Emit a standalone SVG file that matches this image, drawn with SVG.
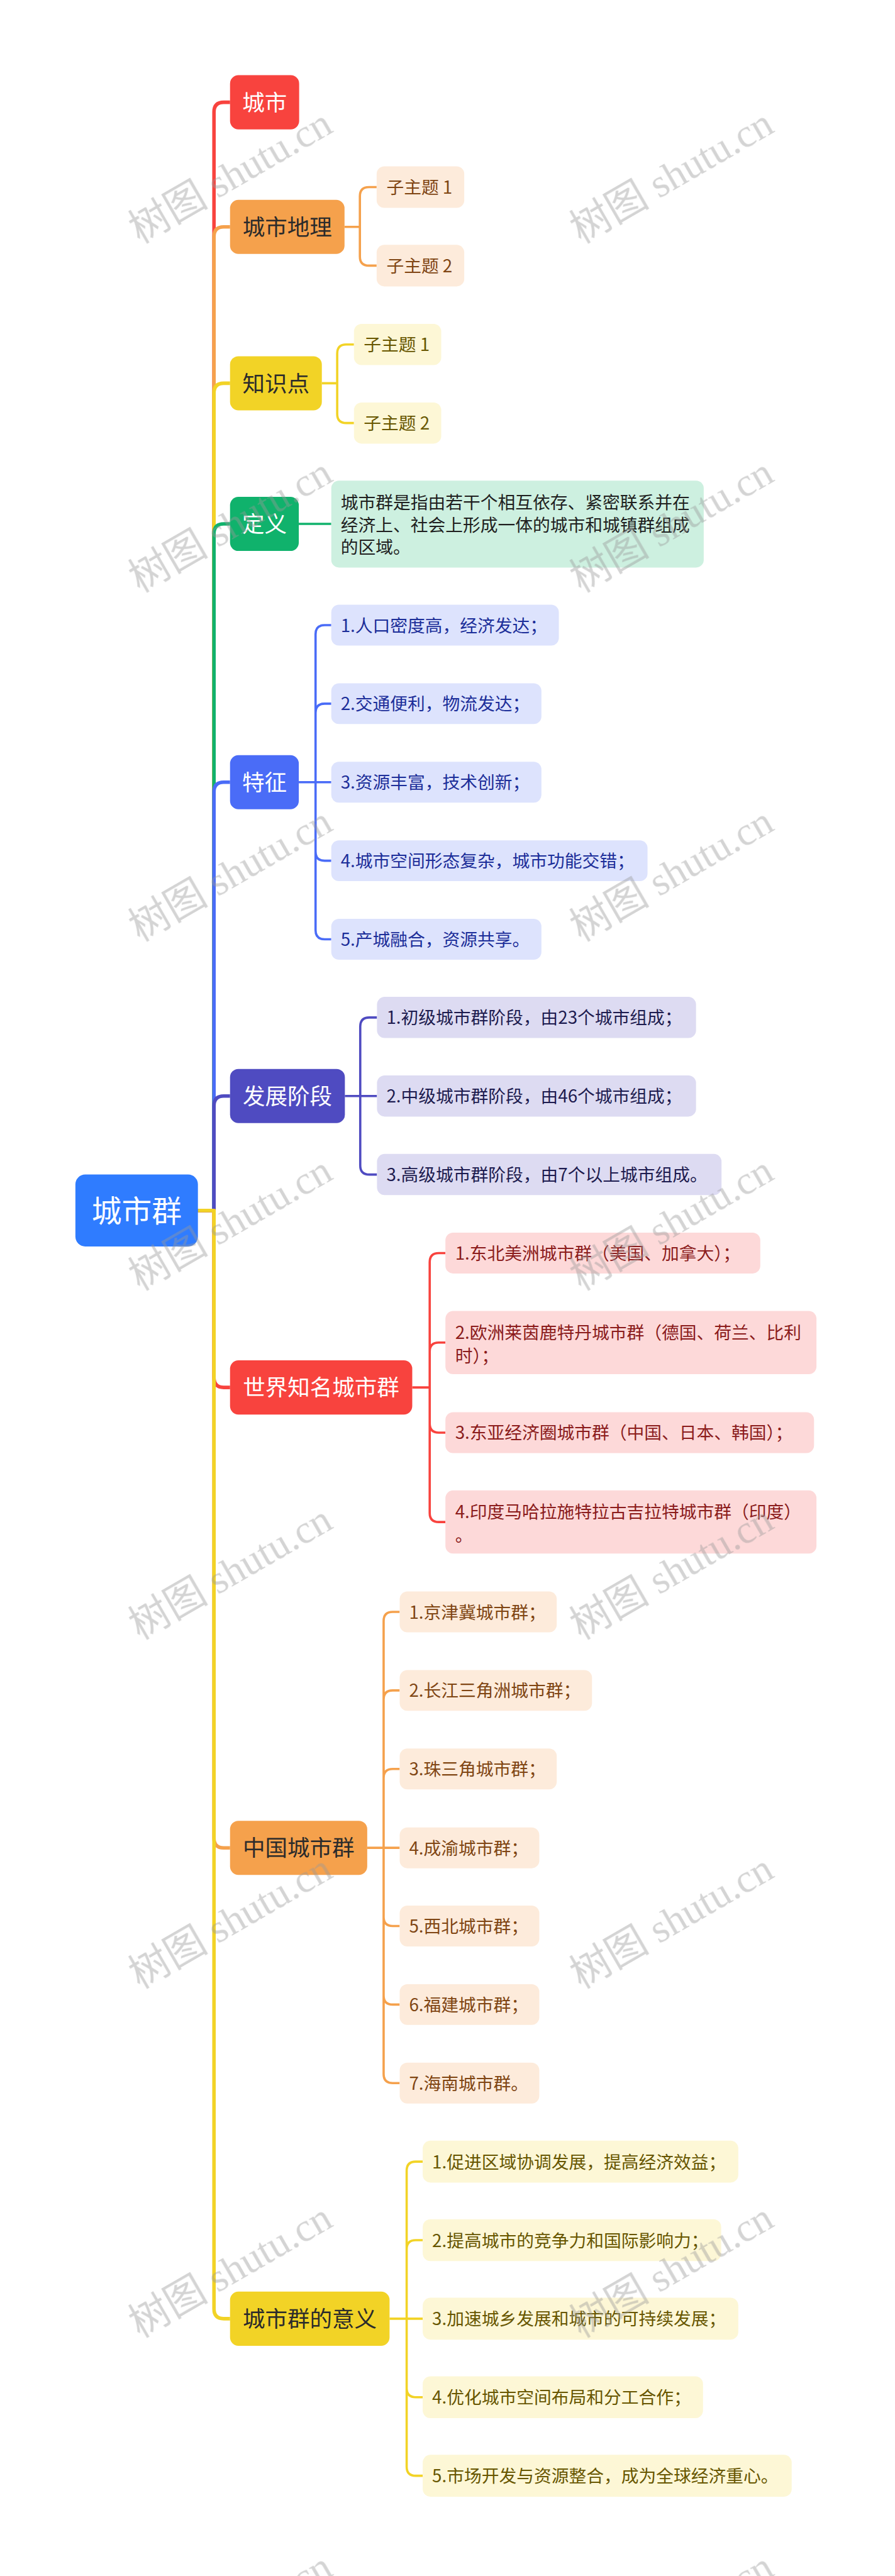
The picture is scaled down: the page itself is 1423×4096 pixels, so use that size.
<svg xmlns="http://www.w3.org/2000/svg" width="1423" height="4096" viewBox="0 0 1423 4096">
<style>
.t{font-family:"Noto Sans CJK SC","Noto Sans",sans-serif}
.rt{font-size:86px;fill:#fff;text-anchor:middle}
.b{font-size:64px;text-anchor:middle}
.l{font-size:50px}
.w{fill:#fff}
.d{fill:#2b2b2b}
.br{fill:none;stroke-width:10;stroke-linejoin:round}
.sb{fill:none;stroke-width:6.5;stroke-linejoin:round}
.cr{stroke:#F8433E}.co{stroke:#F5A14C}.cy{stroke:#F2D326}.cg{stroke:#10B26C}.cb{stroke:#4A6CF7}.ci{stroke:#4F4BC1}
.fo{fill:#FDEBDB}.to{fill:#7F4513}
.fy{fill:#FDF7D6}.ty{fill:#675600}
.fg{fill:#CDF0E0}.tg{fill:#1f1f1f}
.fb{fill:#DDE3FD}.tb{fill:#1C2E99}
.fi{fill:#DDDBF2}.ti{fill:#1D1B4F}
.fr{fill:#FDD9D9}.tr{fill:#8B1C1C}
.wm{font-family:"Liberation Serif","Noto Sans CJK SC",serif;font-size:115px;fill:#9a9a9a;opacity:.42}
</style>
<rect width="1423" height="4096" fill="#fff"/>
<g transform="scale(0.555)">
<g id="connectors">
<path class="br cr" d="M567 3468H613V321Q613 293 641 293H659"/>
<path class="br co" d="M567 3468H613V678Q613 650 641 650H659"/>
<path class="br cy" d="M567 3468H613V1126Q613 1098 641 1098H659"/>
<path class="br cg" d="M567 3468H613V1529Q613 1501 641 1501H659"/>
<path class="br cb" d="M567 3468H613V2269Q613 2241 641 2241H659"/>
<path class="br ci" d="M567 3468H613V3168Q613 3140 641 3140H659"/>
<path class="br cr" d="M567 3468H613V3947Q613 3975 641 3975H659"/>
<path class="br co" d="M567 3468H613V5266Q613 5294 641 5294H659"/>
<path class="br cy" d="M567 3468H613V6615Q613 6643 641 6643H659"/>
<path class="sb co" d="M987 650H1031V562Q1031 536 1057 536H1079M987 650H1031V735Q1031 761 1057 761H1079"/>
<path class="sb cy" d="M922 1098H966V1013Q966 987 992 987H1014M922 1098H966V1186Q966 1212 992 1212H1014"/>
<path class="sb cg" d="M856 1501H949"/>
<path class="sb cb" d="M856 2241H904V1817Q904 1791 930 1791H949M856 2241H904V2042Q904 2016 930 2016H949M856 2241H949M856 2241H904V2440Q904 2466 930 2466H949M856 2241H904V2665Q904 2691 930 2691H949"/>
<path class="sb ci" d="M988 3140H1032V2941Q1032 2915 1058 2915H1080M988 3140H1080M988 3140H1032V3339Q1032 3365 1058 3365H1080"/>
<path class="sb cr" d="M1181 3975H1231V3616Q1231 3590 1257 3590H1276M1181 3975H1231V3872.5Q1231 3846.5 1257 3846.5H1276M1181 3975H1231V4078.5Q1231 4104.5 1257 4104.5H1276M1181 3975H1231V4334.5Q1231 4360.5 1257 4360.5H1276"/>
<path class="sb co" d="M1052 5294H1099V4644Q1099 4618 1125 4618H1145M1052 5294H1099V4869Q1099 4843 1125 4843H1145M1052 5294H1099V5094Q1099 5068 1125 5068H1145M1052 5294H1145M1052 5294H1099V5492Q1099 5518 1125 5518H1145M1052 5294H1099V5717Q1099 5743 1125 5743H1145M1052 5294H1099V5942Q1099 5968 1125 5968H1145"/>
<path class="sb cy" d="M1116 6643H1165V6219Q1165 6193 1191 6193H1211M1116 6643H1165V6444Q1165 6418 1191 6418H1211M1116 6643H1211M1116 6643H1165V6842Q1165 6868 1191 6868H1211M1116 6643H1165V7067Q1165 7093 1191 7093H1211"/>
</g>
<g id="root">
<rect x="216" y="3365" width="351" height="206" rx="28" fill="#2F7CFF"/>
<text class="t rt" x="391.5" y="3500">城市群</text>
</g>
<g id="n-chengshi">
<rect x="659" y="215.5" width="198" height="155" rx="24" fill="#F8433E"/>
<text class="t b w" x="758" y="317">城市</text>
</g>
<g id="n-dili">
<rect x="659" y="572.5" width="328" height="155" rx="24" fill="#F5A14C"/>
<text class="t b d" x="823" y="674">城市地理</text>
</g>
<g id="n-dili-1"><rect class="fo" x="1079" y="476.5" width="251" height="119" rx="22"/><text class="t l to" x="1107" y="555">子主题 1</text></g>
<g id="n-dili-2"><rect class="fo" x="1079" y="701.5" width="251" height="119" rx="22"/><text class="t l to" x="1107" y="780">子主题 2</text></g>
<g id="n-zhishi">
<rect x="659" y="1020.5" width="263" height="155" rx="24" fill="#F2D326"/>
<text class="t b d" x="790.5" y="1122">知识点</text>
</g>
<g id="n-zhishi-1"><rect class="fy" x="1014" y="928" width="250" height="118" rx="22"/><text class="t l ty" x="1042" y="1006">子主题 1</text></g>
<g id="n-zhishi-2"><rect class="fy" x="1014" y="1153" width="250" height="118" rx="22"/><text class="t l ty" x="1042" y="1231">子主题 2</text></g>
<g id="n-dingyi">
<rect x="659" y="1423.5" width="197" height="155" rx="24" fill="#10B26C"/>
<text class="t b w" x="757.5" y="1525">定义</text>
</g>
<g id="n-dingyi-1"><rect class="fg" x="949" y="1377" width="1067" height="249" rx="22"/>
<text class="t l tg" x="976" y="1458">城市群是指由若干个相互依存、紧密联系并在</text>
<text class="t l tg" x="976" y="1522">经济上、社会上形成一体的城市和城镇群组成</text>
<text class="t l tg" x="976" y="1586">的区域。</text></g>
<g id="n-tezheng">
<rect x="659" y="2163.5" width="197" height="155" rx="24" fill="#4A6CF7"/>
<text class="t b w" x="757.5" y="2265">特征</text>
</g>
<g id="n-tz-1"><rect class="fb" x="949" y="1732.5" width="652" height="117" rx="22"/><text class="t l tb" x="976" y="1810">1.人口密度高，经济发达；</text></g>
<g id="n-tz-2"><rect class="fb" x="949" y="1957.5" width="602" height="117" rx="22"/><text class="t l tb" x="976" y="2035">2.交通便利，物流发达；</text></g>
<g id="n-tz-3"><rect class="fb" x="949" y="2182.5" width="602" height="117" rx="22"/><text class="t l tb" x="976" y="2260">3.资源丰富，技术创新；</text></g>
<g id="n-tz-4"><rect class="fb" x="949" y="2407.5" width="906" height="117" rx="22"/><text class="t l tb" x="976" y="2485">4.城市空间形态复杂，城市功能交错；</text></g>
<g id="n-tz-5"><rect class="fb" x="949" y="2632.5" width="602" height="117" rx="22"/><text class="t l tb" x="976" y="2710">5.产城融合，资源共享。</text></g>
<g id="n-fazhan">
<rect x="659" y="3062.5" width="329" height="155" rx="24" fill="#4F4BC1"/>
<text class="t b w" x="823.5" y="3164">发展阶段</text>
</g>
<g id="n-fz-1"><rect class="fi" x="1080" y="2856" width="914" height="118" rx="22"/><text class="t l ti" x="1107" y="2934">1.初级城市群阶段，由23个城市组成；</text></g>
<g id="n-fz-2"><rect class="fi" x="1080" y="3081" width="914" height="118" rx="22"/><text class="t l ti" x="1107" y="3159">2.中级城市群阶段，由46个城市组成；</text></g>
<g id="n-fz-3"><rect class="fi" x="1080" y="3306" width="987" height="118" rx="22"/><text class="t l ti" x="1107" y="3384">3.高级城市群阶段，由7个以上城市组成。</text></g>
<g id="n-shijie">
<rect x="659" y="3897.5" width="522" height="155" rx="24" fill="#F8433E"/>
<text class="t b w" x="920" y="3999">世界知名城市群</text>
</g>
<g id="n-sj-1"><rect class="fr" x="1276" y="3531.5" width="902" height="117" rx="22"/><text class="t l tr" x="1304" y="3609">1.东北美洲城市群（美国、加拿大）；</text></g>
<g id="n-sj-2"><rect class="fr" x="1276" y="3756" width="1063" height="181" rx="22"/><text class="t l tr" x="1304" y="3836">2.欧洲莱茵鹿特丹城市群（德国、荷兰、比利</text><text class="t l tr" x="1304" y="3902">时）；</text></g>
<g id="n-sj-3"><rect class="fr" x="1276" y="4046" width="1056" height="117" rx="22"/><text class="t l tr" x="1304" y="4123">3.东亚经济圈城市群（中国、日本、韩国）；</text></g>
<g id="n-sj-4"><rect class="fr" x="1276" y="4270" width="1063" height="181" rx="22"/><text class="t l tr" x="1304" y="4350">4.印度马哈拉施特拉古吉拉特城市群（印度）</text><text class="t l tr" x="1304" y="4416">。</text></g>
<g id="n-zhongguo">
<rect x="659" y="5216.5" width="393" height="155" rx="24" fill="#F5A14C"/>
<text class="t b d" x="855.5" y="5318">中国城市群</text>
</g>
<g id="n-zg-1"><rect class="fo" x="1145" y="4559.5" width="450" height="117" rx="22"/><text class="t l to" x="1172" y="4637">1.京津冀城市群；</text></g>
<g id="n-zg-2"><rect class="fo" x="1145" y="4784.5" width="551" height="117" rx="22"/><text class="t l to" x="1172" y="4862">2.长江三角洲城市群；</text></g>
<g id="n-zg-3"><rect class="fo" x="1145" y="5009.5" width="450" height="117" rx="22"/><text class="t l to" x="1172" y="5087">3.珠三角城市群；</text></g>
<g id="n-zg-4"><rect class="fo" x="1145" y="5235.5" width="400" height="117" rx="22"/><text class="t l to" x="1172" y="5313">4.成渝城市群；</text></g>
<g id="n-zg-5"><rect class="fo" x="1145" y="5459.5" width="400" height="117" rx="22"/><text class="t l to" x="1172" y="5537">5.西北城市群；</text></g>
<g id="n-zg-6"><rect class="fo" x="1145" y="5684.5" width="400" height="117" rx="22"/><text class="t l to" x="1172" y="5762">6.福建城市群；</text></g>
<g id="n-zg-7"><rect class="fo" x="1145" y="5909.5" width="400" height="117" rx="22"/><text class="t l to" x="1172" y="5987">7.海南城市群。</text></g>
<g id="n-yiyi">
<rect x="659" y="6565.5" width="457" height="155" rx="24" fill="#F2D326"/>
<text class="t b d" x="887.5" y="6667">城市群的意义</text>
</g>
<g id="n-yy-1"><rect class="fy" x="1211" y="6133" width="904" height="120" rx="22"/><text class="t l ty" x="1238" y="6212">1.促进区域协调发展，提高经济效益；</text></g>
<g id="n-yy-2"><rect class="fy" x="1211" y="6358" width="855" height="120" rx="22"/><text class="t l ty" x="1238" y="6437">2.提高城市的竞争力和国际影响力；</text></g>
<g id="n-yy-3"><rect class="fy" x="1211" y="6583" width="904" height="120" rx="22"/><text class="t l ty" x="1238" y="6662">3.加速城乡发展和城市的可持续发展；</text></g>
<g id="n-yy-4"><rect class="fy" x="1211" y="6808" width="803" height="120" rx="22"/><text class="t l ty" x="1238" y="6887">4.优化城市空间布局和分工合作；</text></g>
<g id="n-yy-5"><rect class="fy" x="1211" y="7033" width="1057" height="120" rx="22"/><text class="t l ty" x="1238" y="7112">5.市场开发与资源整合，成为全球经济重心。</text></g>
<g id="watermarks" class="wm">
<text transform="translate(400 699) rotate(-30)">树图 shutu.cn</text>
<text transform="translate(1664 699) rotate(-30)">树图 shutu.cn</text>
<text transform="translate(400 1699) rotate(-30)">树图 shutu.cn</text>
<text transform="translate(1664 1699) rotate(-30)">树图 shutu.cn</text>
<text transform="translate(400 2699) rotate(-30)">树图 shutu.cn</text>
<text transform="translate(1664 2699) rotate(-30)">树图 shutu.cn</text>
<text transform="translate(400 3699) rotate(-30)">树图 shutu.cn</text>
<text transform="translate(1664 3699) rotate(-30)">树图 shutu.cn</text>
<text transform="translate(400 4699) rotate(-30)">树图 shutu.cn</text>
<text transform="translate(1664 4699) rotate(-30)">树图 shutu.cn</text>
<text transform="translate(400 5699) rotate(-30)">树图 shutu.cn</text>
<text transform="translate(1664 5699) rotate(-30)">树图 shutu.cn</text>
<text transform="translate(400 6699) rotate(-30)">树图 shutu.cn</text>
<text transform="translate(1664 6699) rotate(-30)">树图 shutu.cn</text>
<text transform="translate(400 7699) rotate(-30)">树图 shutu.cn</text>
<text transform="translate(1664 7699) rotate(-30)">树图 shutu.cn</text>
</g>
</g>
</svg>
